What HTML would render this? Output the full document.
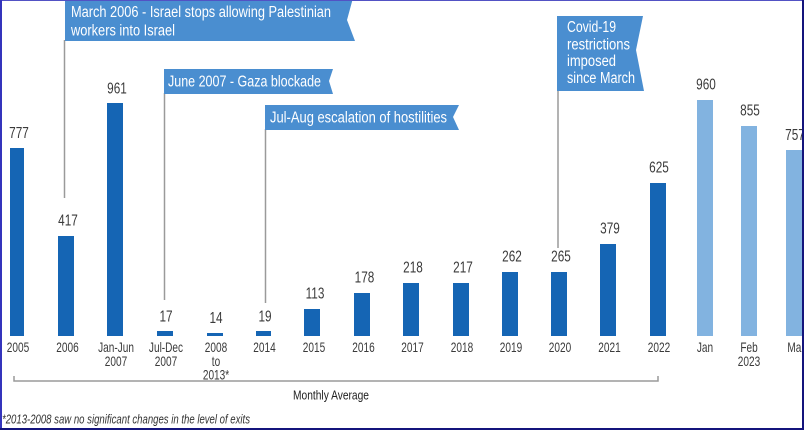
<!DOCTYPE html>
<html><head><meta charset="utf-8"><style>
html,body{margin:0;padding:0;background:#fff;}
svg{display:block;}
text{font-family:"Liberation Sans",sans-serif;}
</style></head><body>
<svg width="804" height="430" viewBox="0 0 804 430" xmlns="http://www.w3.org/2000/svg">
<rect x="0" y="0" width="804" height="430" fill="#fff"/>
<!-- callout lines -->
<g stroke="#9a9a9a" stroke-width="1.5" fill="none">
<line x1="64.5" y1="40" x2="64.5" y2="198"/>
<line x1="164.5" y1="93" x2="164.5" y2="300"/>
<line x1="265.5" y1="129" x2="265.5" y2="303"/>
<line x1="558" y1="90" x2="558" y2="248"/>
<polyline points="14,376 14,381 658,381 658,376"/>
</g>
<!-- callouts -->
<g fill="#4a8ed0">
<polygon points="65,-2 353,-2 347,20 355,41 65,41"/>
<polygon points="164,69 333,69 329,81 333,94 164,94"/>
<polygon points="265,105 459,105 453,117 459,130 265,130"/>
<polygon points="557,16 643,16 636,50 644,91 557,91"/>
</g>
<g fill="#fff" font-size="15.5">
<text x="71" y="17" textLength="260" lengthAdjust="spacingAndGlyphs">March 2006 - Israel stops allowing Palestinian</text>
<text x="71" y="35.5" textLength="104" lengthAdjust="spacingAndGlyphs">workers into Israel</text>
<text x="168" y="86.5" textLength="153" lengthAdjust="spacingAndGlyphs">June 2007 - Gaza blockade</text>
<text x="270" y="122.5" textLength="177" lengthAdjust="spacingAndGlyphs">Jul-Aug escalation of hostilities</text>
<text x="567" y="32" textLength="49" lengthAdjust="spacingAndGlyphs">Covid-19</text>
<text x="567" y="49.5" textLength="63" lengthAdjust="spacingAndGlyphs">restrictions</text>
<text x="567" y="66" textLength="49" lengthAdjust="spacingAndGlyphs">imposed</text>
<text x="567" y="83" textLength="68" lengthAdjust="spacingAndGlyphs">since March</text>
</g>
<!-- bars -->
<g fill="#1565b4">
<rect x="10" y="148" width="14" height="188"/>
<rect x="58" y="236" width="16" height="100"/>
<rect x="107" y="103" width="16" height="233"/>
<rect x="157" y="331" width="16" height="5"/>
<rect x="207" y="333" width="16" height="3"/>
<rect x="256" y="331" width="15" height="5"/>
<rect x="304" y="309" width="16" height="27"/>
<rect x="354" y="293" width="16" height="43"/>
<rect x="403" y="283" width="16" height="53"/>
<rect x="453" y="283" width="16" height="53"/>
<rect x="502" y="272" width="16" height="64"/>
<rect x="551" y="272" width="16" height="64"/>
<rect x="600" y="244" width="16" height="92"/>
<rect x="650" y="183" width="16" height="153"/>
</g>
<g fill="#82b3e0">
<rect x="697" y="100" width="16" height="236"/>
<rect x="741" y="126" width="16" height="210"/>
<rect x="786" y="150" width="16" height="186"/>
</g>
<!-- value labels -->
<g fill="#3a3a3a" font-size="15.5" text-anchor="middle">
<text transform="translate(19,138) scale(0.76,1)">777</text>
<text transform="translate(68,225.5) scale(0.76,1)">417</text>
<text transform="translate(117,93.5) scale(0.76,1)">961</text>
<text transform="translate(166,321.5) scale(0.76,1)">17</text>
<text transform="translate(216,323) scale(0.76,1)">14</text>
<text transform="translate(265,321.5) scale(0.76,1)">19</text>
<text transform="translate(315,298.5) scale(0.76,1)">113</text>
<text transform="translate(364.5,282.7) scale(0.76,1)">178</text>
<text transform="translate(413,272.5) scale(0.76,1)">218</text>
<text transform="translate(463,272.5) scale(0.76,1)">217</text>
<text transform="translate(512,261.5) scale(0.76,1)">262</text>
<text transform="translate(561,261.5) scale(0.76,1)">265</text>
<text transform="translate(610,233.5) scale(0.76,1)">379</text>
<text transform="translate(659,172.5) scale(0.76,1)">625</text>
<text transform="translate(706,89.5) scale(0.76,1)">960</text>
<text transform="translate(750,115.5) scale(0.76,1)">855</text>
<text transform="translate(795,140) scale(0.76,1)">757</text>
</g>
<!-- tick labels -->
<g fill="#3a3a3a" font-size="14" text-anchor="middle">
<text transform="translate(18,352) scale(0.72,1)">2005</text>
<text transform="translate(67.5,352) scale(0.72,1)">2006</text>
<text transform="translate(116,352) scale(0.72,1)">Jan-Jun</text>
<text transform="translate(116,366) scale(0.72,1)">2007</text>
<text transform="translate(166,352) scale(0.72,1)">Jul-Dec</text>
<text transform="translate(166,366) scale(0.72,1)">2007</text>
<text transform="translate(216,352) scale(0.72,1)">2008</text>
<text transform="translate(216,366) scale(0.72,1)">to</text>
<text transform="translate(216,379.5) scale(0.72,1)">2013*</text>
<text transform="translate(264.5,352) scale(0.72,1)">2014</text>
<text transform="translate(314,352) scale(0.72,1)">2015</text>
<text transform="translate(363.5,352) scale(0.72,1)">2016</text>
<text transform="translate(412.5,352) scale(0.72,1)">2017</text>
<text transform="translate(462,352) scale(0.72,1)">2018</text>
<text transform="translate(511,352) scale(0.72,1)">2019</text>
<text transform="translate(560,352) scale(0.72,1)">2020</text>
<text transform="translate(609.5,352) scale(0.72,1)">2021</text>
<text transform="translate(659,352) scale(0.72,1)">2022</text>
<text transform="translate(705,352) scale(0.72,1)">Jan</text>
<text transform="translate(749,352) scale(0.72,1)">Feb</text>
<text transform="translate(749,366) scale(0.72,1)">2023</text>
<text transform="translate(796,352) scale(0.72,1)">Mar</text>
</g>
<text x="293" y="399.5" font-size="13" fill="#222" textLength="76" lengthAdjust="spacingAndGlyphs">Monthly Average</text>
<text x="2" y="423.5" font-size="13" font-style="italic" fill="#333" textLength="248" lengthAdjust="spacingAndGlyphs">*2013-2008 saw no significant changes in the level of exits</text>
<!-- border -->
<rect x="0" y="0" width="804" height="1" fill="#5252c4"/>
<rect x="0" y="0" width="2" height="430" fill="#3434bc"/>
<rect x="802" y="0" width="2" height="430" fill="#14147c"/>
<rect x="0" y="428" width="804" height="2" fill="#14147c"/>
</svg>
</body></html>
